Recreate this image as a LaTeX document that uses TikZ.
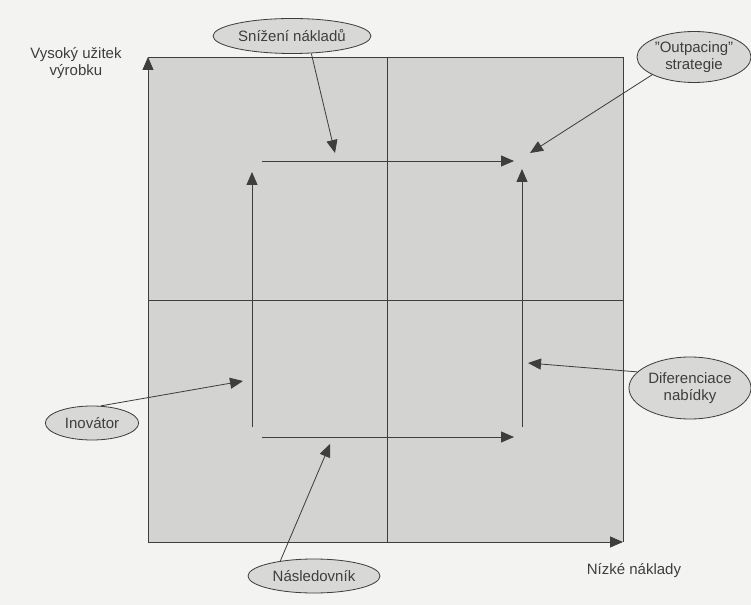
\documentclass[tikz,border=0pt]{standalone}
\usepackage{fontspec}
\setmainfont{Liberation Sans}
\usetikzlibrary{arrows.meta,shapes.geometric,positioning}
\definecolor{paper}{RGB}{243,243,241}
\definecolor{boxgray}{RGB}{211,211,209}
\definecolor{ovalgray}{RGB}{216,216,214}
\definecolor{ink}{RGB}{62,62,62}

\begin{document}
\begin{tikzpicture}[x=0.3mm,y=-0.3mm]
\tikzset{
  callout/.style={ellipse,draw=ink,fill=ovalgray,line width=0.7pt,inner sep=0pt,align=center,text=ink,font=\fontsize{12.8}{14}\selectfont},
  axislabel/.style={align=center,text=ink,font=\fontsize{12.8}{14}\selectfont},
  pointer/.style={draw=ink,line width=0.7pt,-{Triangle[length=3.9mm,width=3.3mm]}},
  flow/.style={draw=ink,line width=0.8pt,-{Triangle[length=3.9mm,width=3.3mm]}}
}
\fill[paper] (0,0) rectangle (751,605);
\useasboundingbox (0,0) rectangle (751,605);
% quadrant box
\coordinate (o) at (148,542);
\coordinate (ytop) at (148,57);
\coordinate (xend) at (623,542);
\coordinate (midtop) at (387,57);
\coordinate (midbot) at (387,542);
\coordinate (midleft) at (148,300);
\coordinate (midright) at (623,300);
\fill[boxgray] (o) rectangle (623,57);
\draw[ink,line width=0.7pt] (ytop) -- (623,57) -- (xend);
\draw[ink,line width=0.7pt] (midtop) -- (midbot);
\draw[ink,line width=0.7pt] (midleft) -- (midright);
\draw[flow] (o) -- (ytop);
\draw[flow] (o) -- (xend);
% axis texts
\node[axislabel] (l_y) at (76,63) {Vysoký užitek\\výrobku};
\node[axislabel] (l_x) at (634,571) {Nízké náklady};
% moves between the quadrants
\coordinate (p_tl) at (262,161);
\coordinate (p_tr) at (514,161);
\coordinate (p_lb) at (252,427);
\coordinate (p_lt) at (252,172);
\coordinate (p_bl) at (262,437);
\coordinate (p_br) at (514,437);
\coordinate (p_rb) at (522,427);
\coordinate (p_rt) at (522,169);
\draw[flow] (p_tl) -- (p_tr);
\draw[flow] (p_lb) -- (p_lt);
\draw[flow] (p_bl) -- (p_br);
\draw[flow] (p_rb) -- (p_rt);
% callouts
\node[callout,minimum width=47.4mm,minimum height=10.5mm] (n_snizeni) at (292,36) {Snížení nákladů};
\node[callout,minimum width=34.2mm,minimum height=15.3mm] (n_outpacing) at (694,57) {"Outpacing"\\strategie};
\node[callout,minimum width=36.6mm,minimum height=18.6mm] (n_diferenciace) at (690,388) {Diferenciace\\nabídky};
\node[callout,minimum width=28mm,minimum height=10.2mm] (n_inovator) at (92,423) {Inovátor};
\node[callout,minimum width=39.6mm,minimum height=10.2mm] (n_nasledovnik) at (314,576) {Následovník};
\coordinate (c_snizeni) at (335,153);
\coordinate (c_outpacing) at (530,153);
\coordinate (c_diferenciace) at (528,363);
\coordinate (c_inovator) at (243,381);
\coordinate (c_nasledovnik) at (330,444);
\draw[pointer] (n_snizeni.-42) -- (c_snizeni);
\draw[pointer] (n_outpacing.203) -- (c_outpacing);
\draw[pointer] (n_diferenciace.163) -- (c_diferenciace);
\draw[pointer] (n_inovator.63) -- (c_inovator);
\draw[pointer] (n_nasledovnik.156) -- (c_nasledovnik);
\end{tikzpicture}
\end{document}
